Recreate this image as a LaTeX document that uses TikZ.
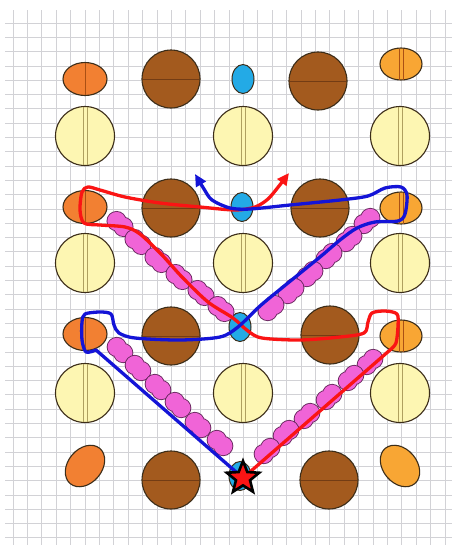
\documentclass[tikz,border=0pt]{standalone}
\usetikzlibrary{shapes.geometric,arrows.meta}
\definecolor{gridc}{RGB}{210,210,214}
\definecolor{brownf}{RGB}{163,90,30}
\definecolor{brownl}{RGB}{115,60,20}
\definecolor{yellowf}{RGB}{253,246,178}
\definecolor{yellowl}{RGB}{175,160,95}
\definecolor{orangeA}{RGB}{242,128,50}
\definecolor{orangeB}{RGB}{248,166,52}
\definecolor{orangel}{RGB}{170,80,20}
\definecolor{skyf}{RGB}{35,170,230}
\definecolor{pinkf}{RGB}{240,100,215}
\definecolor{pinkl}{RGB}{105,40,95}
\definecolor{outl}{RGB}{60,45,25}
\definecolor{redp}{RGB}{250,20,20}
\definecolor{bluep}{RGB}{20,20,215}
\newcommand\BrownAt[2]{%
  \fill[brownf,draw=outl,line width=1.1pt] (#1,#2) circle[radius=29];
  \draw[brownl,line width=0.8pt] (#1-28,#2) -- (#1+28,#2);}
\newcommand\YellowAt[2]{%
  \fill[yellowf,draw=outl,line width=1.1pt] (#1,#2) circle[radius=29.5];
  \draw[yellowl,line width=0.7pt] (#1-2,#2-29) -- (#1-2,#2+29) (#1+2,#2-29) -- (#1+2,#2+29);}
\newcommand\OrangeAAt[2]{%
  \fill[orangeA,draw=outl,line width=1.1pt] (#1,#2) ellipse[x radius=22,y radius=16.5];
  \draw[orangel,line width=0.7pt] (#1,#2-16) -- (#1,#2+16);}
\newcommand\OrangeBAt[2]{%
  \fill[orangeB,draw=outl,line width=1.1pt] (#1,#2) ellipse[x radius=21,y radius=16];
  \draw[orangel,line width=0.7pt] (#1-2,#2-15.5) -- (#1-2,#2+15.5) (#1+2,#2-15.5) -- (#1+2,#2+15.5);}
\newcommand\SkyAt[2]{%
  \fill[skyf,draw=outl,line width=1pt] (#1,#2) ellipse[x radius=11,y radius=14.5];}
\newcommand\PinkPair[4]{%
  \draw[pinkl,line width=1.8pt] (#1-#3,#2-#4) circle[radius=9.2] (#1+#3,#2+#4) circle[radius=9.2];
  \fill[pinkf] (#1-#3,#2-#4) circle[radius=9.2] (#1+#3,#2+#4) circle[radius=9.2];}
\begin{document}
\begin{tikzpicture}[x=1pt,y=-1pt,
  pathline/.style={line width=3.3pt,line cap=round,line join=round},
  tipped/.style={-{Triangle[length=12pt,width=11pt]}}]
\useasboundingbox (0,0) rectangle (458,550);
\fill[white] (0,0) rectangle (458,550);
% grid
\foreach \i in {0,...,30} \draw[gridc,line width=0.8pt] ({13+14.4*\i},10) -- ({13+14.4*\i},545);
\foreach \j in {0,...,36} \draw[gridc,line width=0.8pt] (5,{23+14.3*\j}) -- (452,{23+14.3*\j});
% row 1
\OrangeAAt{85}{79}
\BrownAt{171}{79}
\SkyAt{243}{79}
\BrownAt{318}{81}
\OrangeBAt{401}{64}
% row 2
\YellowAt{85}{136}
\YellowAt{243}{136}
\YellowAt{400}{136}
% row 3
\OrangeAAt{85}{207}
\BrownAt{171}{208}
\SkyAt{242}{207}
\BrownAt{320}{208}
\OrangeBAt{401}{208}
% row 4
\YellowAt{85}{263}
\YellowAt{243}{263}
\YellowAt{400}{263}
% row 5
\OrangeAAt{85}{334}
\BrownAt{171}{336}
\SkyAt{240}{327}
\BrownAt{330}{335}
\OrangeBAt{401}{336}
% row 6
\YellowAt{85}{393}
\YellowAt{243}{393}
\YellowAt{400}{393}
% row 7
\fill[orangeA,draw=outl,line width=1.1pt,rotate around={50:(85,466)}] (85,466) ellipse[x radius=23,y radius=17];
\fill[orangeB,draw=outl,line width=1.1pt,rotate around={-50:(400,466)}] (400,466) ellipse[x radius=23,y radius=17];
\BrownAt{171}{480}
\BrownAt{329}{480}
\SkyAt{240}{476}
% pink chains
\PinkPair{120}{224}{3.4}{2.9}
\PinkPair{138}{242}{3.4}{2.9}
\PinkPair{158}{260}{3.4}{2.9}
\PinkPair{179}{277}{3.4}{2.9}
\PinkPair{201}{293}{3.4}{2.9}
\PinkPair{221}{309}{3.4}{2.9}
\PinkPair{367}{221}{3.3}{-3}
\PinkPair{349}{239}{3.3}{-3}
\PinkPair{329}{256}{3.3}{-3}
\PinkPair{310}{274}{3.3}{-3}
\PinkPair{291}{291}{3.3}{-3}
\PinkPair{271}{308}{3.3}{-3}
\PinkPair{120}{350}{3.2}{3}
\PinkPair{138}{368}{3.2}{3}
\PinkPair{158}{387}{3.2}{3}
\PinkPair{178}{405}{3.2}{3}
\PinkPair{198}{425}{3.2}{3}
\PinkPair{220}{443}{3.2}{3}
\PinkPair{370}{362}{3.2}{-3}
\PinkPair{351}{378}{3.2}{-3}
\PinkPair{329}{397}{3.2}{-3}
\PinkPair{307}{416}{3.2}{-3}
\PinkPair{286}{433}{3.2}{-3}
\PinkPair{267}{451}{3.2}{-3}
% start point of both paths (star drawn on top later)
\coordinate (origin) at (243,478);
% red path
\draw[redp,pathline,tipped] (origin) -- plot[smooth,tension=0.5] coordinates {
 (390,350) (396,343) (398,326) (397,314) (385,311) (372,313) (368,322) (364,333)
 (340,337) (300,340) (262,338) (248,331) (233,318) (208,302) (182,277) (162,255)
 (140,234) (125,227) (100,225) (84,223) (80,210) (82,192) (88,187) (100,190)
 (125,197) (160,203) (200,207) (235,210) (255,207) (268,199) (279,186) (289,173)};
% blue path
\draw[bluep,pathline,tipped] (origin) -- plot[smooth,tension=0.5] coordinates {
 (96,350) (86,352) (82,340) (82,322) (85,314) (100,312) (111,314) (114,325)
 (119,333) (135,338) (180,340) (220,337) (238,327) (260,306) (283,287) (320,257)
 (340,240) (357,228) (375,222) (398,221) (405,214) (407,195) (401,187) (385,188)
 (368,196) (340,200) (290,205) (250,209) (230,208) (212,200) (204,189) (195,174)};
\node[star,star points=5,star point ratio=2.3,fill=redp,draw=black,line width=2.6pt,
      minimum size=34pt,inner sep=0pt] (star) at (origin) {};
\end{tikzpicture}
\end{document}
